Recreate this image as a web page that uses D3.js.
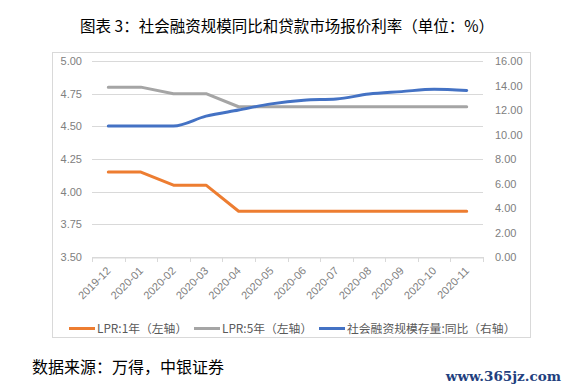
<!DOCTYPE html>
<html><head><meta charset="utf-8">
<script src="https://cdn.jsdelivr.net/npm/d3@7"></script>
<style>
html,body{margin:0;padding:0;background:#fff;}
svg{display:block;}
</style></head>
<body>
<svg id="chart" width="570" height="390"></svg>
<script>
const categories = ["2019-12","2020-01","2020-02","2020-03","2020-04","2020-05","2020-06","2020-07","2020-08","2020-09","2020-10","2020-11"];
const lpr1y = [4.15,4.15,4.05,4.05,3.85,3.85,3.85,3.85,3.85,3.85,3.85,3.85];
const lpr5y = [4.80,4.80,4.75,4.75,4.65,4.65,4.65,4.65,4.65,4.65,4.65,4.65];
const tsfYoY = [10.7,10.7,10.7,11.5,12.0,12.5,12.8,12.9,13.3,13.5,13.7,13.6];
const leftTicks = [3.50,3.75,4.00,4.25,4.50,4.75,5.00];
const rightTicks = [0,2,4,6,8,10,12,14,16];
const seriesNames = ["LPR:1年（左轴）","LPR:5年（左轴）","社会融资规模存量:同比（右轴）"];
const colors = ["#ED7D31","#A5A5A5","#4472C4"];
const titleText = "图表 3：社会融资规模同比和贷款市场报价利率（单位：%）";
const sourceText = "数据来源：万得，中银证券";
const watermark = "www.365jz.com";

const svg = d3.select("#chart");
const cjk = "'Noto Sans CJK SC','Noto Sans',sans-serif";
const lat = "'Liberation Sans',Arial,sans-serif";

const L = 92, R = 483, T = 61, B = 257;
const x = d3.scaleBand().domain(categories).range([L, R]).padding(0);
const yL = d3.scaleLinear().domain([3.5, 5]).range([B, T]);
const yR = d3.scaleLinear().domain([0, 16]).range([B, T]);
const cx = d => x(d) + x.bandwidth() / 2;

// title
svg.append("text").attr("x", 287).attr("y", 31.5).attr("text-anchor", "middle")
  .attr("font-family", cjk).attr("font-size", 15.5).attr("fill", "#000").text(titleText);

// chart border
svg.append("rect").attr("x", 52.5).attr("y", 52.5).attr("width", 478).attr("height", 285)
  .attr("fill", "none").attr("stroke", "#d9d9d9").attr("stroke-width", 1);

// gridlines
svg.append("g").selectAll("line").data(leftTicks).join("line")
  .attr("x1", L).attr("x2", R)
  .attr("y1", d => Math.round(yL(d)) + 0.5).attr("y2", d => Math.round(yL(d)) + 0.5)
  .attr("stroke", "#d9d9d9").attr("stroke-width", 1);

// left axis
const gl = svg.append("g").attr("transform", `translate(${L},0)`)
  .call(d3.axisLeft(yL).tickValues(leftTicks).tickFormat(d3.format(".2f")).tickSize(0).tickPadding(10));
gl.select(".domain").remove();
gl.selectAll("text").attr("font-family", lat).attr("font-size", 11).attr("fill", "#808080");

// right axis
const gr = svg.append("g").attr("transform", `translate(${R},0)`)
  .call(d3.axisRight(yR).tickValues(rightTicks).tickFormat(d3.format(".2f")).tickSize(0).tickPadding(12));
gr.select(".domain").remove();
gr.selectAll("text").attr("font-family", lat).attr("font-size", 11).attr("fill", "#808080");

// bottom axis
const gb = svg.append("g").attr("transform", `translate(0,${B + 0.5})`)
  .call(d3.axisBottom(x).tickSize(0).tickPadding(0));
gb.select(".domain").attr("stroke", "#d9d9d9");
gb.selectAll(".tick text")
  .attr("font-family", lat).attr("font-size", 11).attr("fill", "#808080")
  .attr("text-anchor", "end").attr("dy", 0)
  .attr("transform", "translate(3,14) rotate(-45)");
// tick marks at band boundaries
const bounds = categories.map(c => x(c)).concat([R]);
svg.append("g").selectAll("line").data(bounds).join("line")
  .attr("x1", d => Math.round(d) + 0.5).attr("x2", d => Math.round(d) + 0.5)
  .attr("y1", B).attr("y2", B + 5).attr("stroke", "#d9d9d9");

// lines
const lineL = d3.line().x((d, i) => cx(categories[i])).y(d => yL(d));
const lineR = d3.line().x((d, i) => cx(categories[i])).y(d => yR(d)).curve(d3.curveMonotoneX);
svg.append("path").datum(lpr1y).attr("d", lineL).attr("fill", "none")
  .attr("stroke", colors[0]).attr("stroke-width", 3).attr("stroke-linejoin", "round").attr("stroke-linecap", "round");
svg.append("path").datum(lpr5y).attr("d", lineL).attr("fill", "none")
  .attr("stroke", colors[1]).attr("stroke-width", 3).attr("stroke-linejoin", "round").attr("stroke-linecap", "round");
svg.append("path").datum(tsfYoY).attr("d", lineR).attr("fill", "none")
  .attr("stroke", colors[2]).attr("stroke-width", 3).attr("stroke-linejoin", "round").attr("stroke-linecap", "round");

// legend
const legX = [69, 194, 319];
const leg = svg.append("g");
seriesNames.forEach((n, i) => {
  leg.append("line").attr("x1", legX[i]).attr("x2", legX[i] + 26).attr("y1", 328.5).attr("y2", 328.5)
    .attr("stroke", colors[i]).attr("stroke-width", 3);
  leg.append("text").attr("x", legX[i] + 28).attr("y", 332.5)
    .attr("font-family", cjk).attr("font-size", 11.8).attr("fill", "#595959").text(n);
});

// source
svg.append("text").attr("x", 32).attr("y", 373).attr("font-family", cjk).attr("font-size", 16)
  .attr("fill", "#000").text(sourceText);

// watermark
svg.append("text").attr("x", 561).attr("y", 381).attr("text-anchor", "end")
  .attr("font-family", "'DejaVu Serif',serif").attr("font-size", 13.5).attr("font-weight", "bold")
  .attr("fill", "#22407e").text(watermark);
</script>
</body></html>
